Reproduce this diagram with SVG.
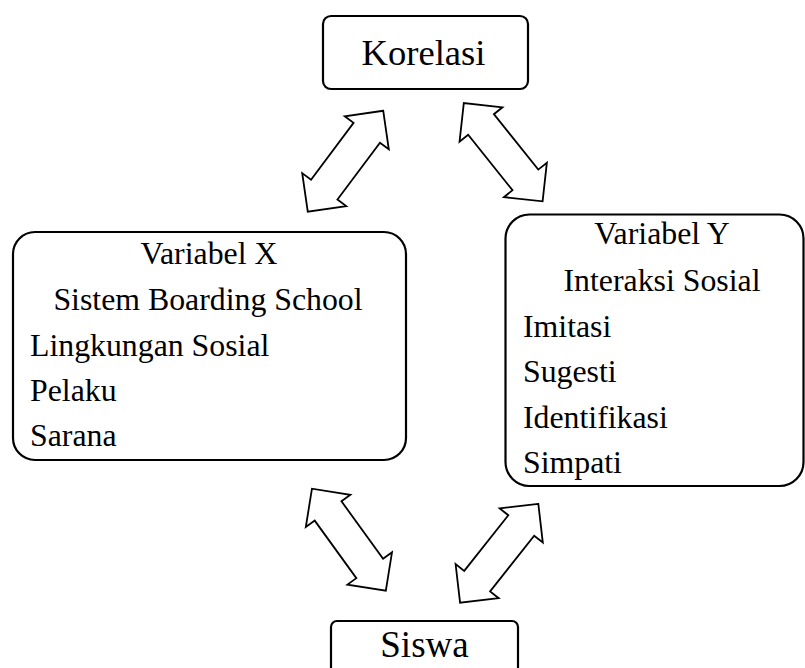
<svg xmlns="http://www.w3.org/2000/svg" width="805" height="668" viewBox="0 0 805 668">
<style>
.box{fill:#fff;stroke:#000;stroke-width:2.2}
.t{font-family:'Liberation Serif','Times New Roman',Times,serif;fill:#000}
.m{font-size:31.8px}
.arr{fill:#fff;stroke:#000;stroke-width:1.8;stroke-linejoin:miter}
</style>
<defs>
<polygon id="dbl" points="63,0 35.5,-27.5 35.5,-16.5 -35.5,-16.5 -35.5,-27.5 -63,0 -35.5,27.5 -35.5,16.5 35.5,16.5 35.5,27.5"/>
</defs>
<rect width="805" height="668" fill="#fff"/>
<g id="connectors">
<use href="#dbl" class="arr" transform="translate(345.5,161.2) rotate(-53.2)"/>
<use href="#dbl" class="arr" transform="translate(503.2,152.2) rotate(51.3)"/>
<use href="#dbl" class="arr" transform="translate(348.9,539.7) rotate(54.1)"/>
<use href="#dbl" class="arr" transform="translate(499.2,553.3) rotate(-51.6)"/>
</g>
<g id="korelasi">
<rect class="box" x="323" y="16" width="205" height="73" rx="8"/>
<text class="t" x="423.5" y="65" font-size="36.6" text-anchor="middle">Korelasi</text>
</g>
<g id="variabel-x">
<rect class="box" x="13" y="232" width="393" height="228" rx="22"/>
<text class="t m" x="209" y="264" text-anchor="middle">Variabel X</text>
<text class="t m" x="208" y="310" text-anchor="middle">Sistem Boarding School</text>
<text class="t m" x="30" y="356">Lingkungan Sosial</text>
<text class="t m" x="30" y="401">Pelaku</text>
<text class="t m" x="30" y="446">Sarana</text>
</g>
<g id="variabel-y">
<rect class="box" x="505.5" y="214.5" width="298" height="271.5" rx="24"/>
<text class="t m" x="662" y="244" text-anchor="middle">Variabel Y</text>
<text class="t m" x="662" y="291" text-anchor="middle">Interaksi Sosial</text>
<text class="t m" x="523" y="337">Imitasi</text>
<text class="t m" x="523" y="382">Sugesti</text>
<text class="t m" x="523" y="428">Identifikasi</text>
<text class="t m" x="523" y="473">Simpati</text>
</g>
<g id="siswa">
<rect class="box" x="331" y="621" width="187" height="60" rx="6"/>
<text class="t" x="424.5" y="657" font-size="37" text-anchor="middle">Siswa</text>
</g>
</svg>
